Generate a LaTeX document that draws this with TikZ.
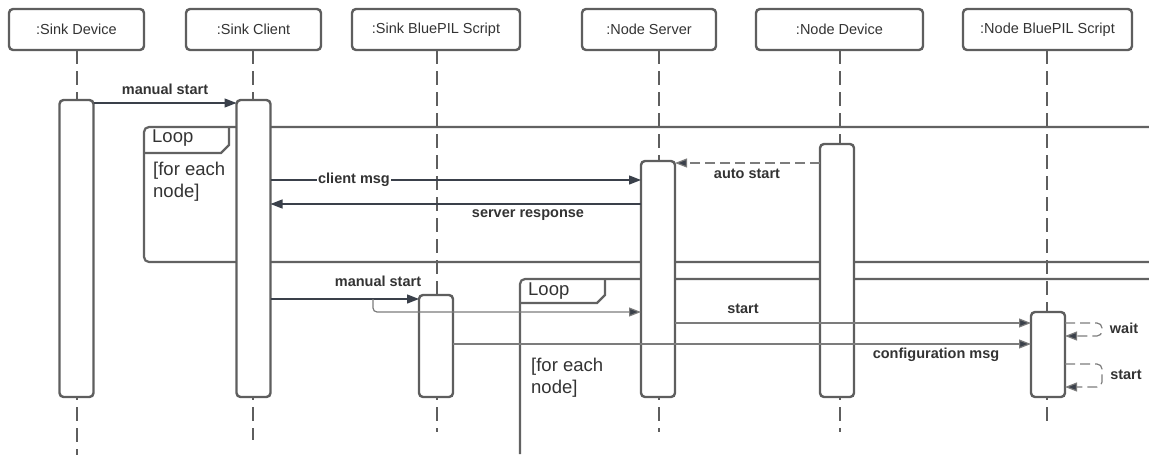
\documentclass[tikz,border=0pt]{standalone}
\usepackage{fontspec}
\setmainfont{Liberation Sans}
\usetikzlibrary{arrows.meta}
\definecolor{boxgray}{HTML}{5E5E5E}
\definecolor{framegray}{HTML}{626262}
\definecolor{msgdark}{HTML}{3A404A}
\definecolor{msggray}{HTML}{7C7C7C}
\definecolor{txt}{HTML}{333333}
\begin{document}
\begin{tikzpicture}[x=1pt,y=-1pt,
  head/.style={draw=boxgray, line width=2.4pt, rounded corners=4pt, fill=white,
    minimum height=41pt, inner sep=0pt, text=txt,
    font=\fontsize{14.5}{17}\selectfont},
  act/.style={draw=boxgray, line width=2.4pt, rounded corners=4pt, fill=white,
    minimum width=34pt, inner sep=0pt, outer sep=0pt},
  lifeline/.style={draw=boxgray, line width=1.1pt, dash pattern=on 14pt off 7pt},
  frame/.style={draw=framegray, line width=2.2pt},
  frametext/.style={text=txt, inner sep=0pt, font=\fontsize{18.5}{22}\selectfont},
  msg/.style={draw=msgdark, line width=1.3pt, -{Triangle[length=12pt,width=9pt]}},
  msglight/.style={draw=msggray, line width=1.2pt, -{Triangle[length=12pt,width=9pt,fill=msgdark]}},
  reply/.style={draw=msggray, line width=1.2pt, dash pattern=on 10pt off 5pt,
    -{Triangle[length=12pt,width=9pt,fill=msgdark]}},
  lbl/.style={text=txt, inner sep=1pt, font=\bfseries\fontsize{14.5}{17}\selectfont}
]
\useasboundingbox (0,0) rectangle (1149,455);
\clip (0,0) rectangle (1149,455);

% lifelines
\draw[lifeline] (77,50) -- (77,455);
\draw[lifeline] (253,50) -- (253,440);
\draw[lifeline] (437,50) -- (437,432);
\draw[lifeline] (659,50) -- (659,432);
\draw[lifeline] (840,50) -- (840,432);
\draw[lifeline] (1047,50) -- (1047,427);

% participants
\node[head, minimum width=135pt] (h1) at (76.5,29.5) {:Sink Device};
\node[head, minimum width=135pt] (h2) at (253.5,29.5) {:Sink Client};
\node[head, minimum width=168pt] (h3) at (436,29.5) {:Sink BluePIL Script};
\node[head, minimum width=134pt] (h4) at (649,29.5) {:Node Server};
\node[head, minimum width=167pt] (h5) at (839.5,29.5) {:Node Device};
\node[head, minimum width=169pt] (h6) at (1047.5,29.5) {:Node BluePIL Script};

% combined fragments
\draw[frame, rounded corners=5pt] (1165,262) -- (144,262) -- (144,127) -- (1165,127);
\draw[frame] (144,153) -- (221,153) -- (229,145) -- (229,127);
\node[frametext, anchor=base west] (lp1) at (152,142) {Loop};
\node[frametext, anchor=base west] (lc1a) at (153,175) {[for each};
\node[frametext, anchor=base west] (lc1b) at (153,197) {node]};

\draw[frame, rounded corners=5pt] (520,454) -- (520,279) -- (1165,279);
\draw[frame] (520,303) -- (597,303) -- (605,295) -- (605,279);
\node[frametext, anchor=base west] (lp2) at (528,295) {Loop};
\node[frametext, anchor=base west] (lc2a) at (531,371) {[for each};
\node[frametext, anchor=base west] (lc2b) at (531,393) {node]};

% activations
\node[act, minimum height=297pt] (a1) at (76.5,248.5) {};
\node[act, minimum height=297pt] (a2) at (253.5,248.5) {};
\node[act, minimum height=102pt] (a3) at (436,346) {};
\node[act, minimum height=236pt] (a4) at (658,279) {};
\node[act, minimum height=253pt] (a5) at (837,270.5) {};
\node[act, minimum height=85pt] (a6) at (1048,354.5) {};

% messages
\draw[msg] (a1.east |- 0,103) -- (a2.west |- 0,103);
\node[lbl] (m1) at (165,89) {manual start};

\draw[msg] (a2.east |- 0,180) -- (a4.west |- 0,180);
\node[lbl, fill=white] (m2) at (354,180) {client msg};

\draw[msg] (a4.west |- 0,204) -- (a2.east |- 0,204);
\node[lbl] (m3) at (528,215) {server response};

\draw[reply] (a5.west |- 0,163) -- (a4.east |- 0,163);
\node[lbl] (m4) at (747,174) {auto start};

\draw[msg] (a2.east |- 0,299) -- (a3.west |- 0,299);
\node[lbl] (m5) at (378,281) {manual start};
\coordinate (fork) at (373,299);
\draw[msglight, rounded corners=4pt] (fork) -- (fork |- 0,312) -- (a4.west |- 0,312);

\draw[msglight] (a4.east |- 0,323) -- (a6.west |- 0,323);
\node[lbl] (m6) at (743,309) {start};

\draw[msglight] (a3.east |- 0,344) -- (a6.west |- 0,344);
\node[lbl] (m7) at (936,355) {configuration msg};

\draw[reply, rounded corners=5pt] (a6.east |- 0,323) -- (1102,323) -- (1102,336) -- (a6.east |- 0,336);
\node[lbl] (m8) at (1124,328) {wait};

\draw[reply, rounded corners=5pt] (a6.east |- 0,364) -- (1102,364) -- (1102,387) -- (a6.east |- 0,387);
\node[lbl] (m9) at (1126,375) {start};
\end{tikzpicture}
\end{document}
